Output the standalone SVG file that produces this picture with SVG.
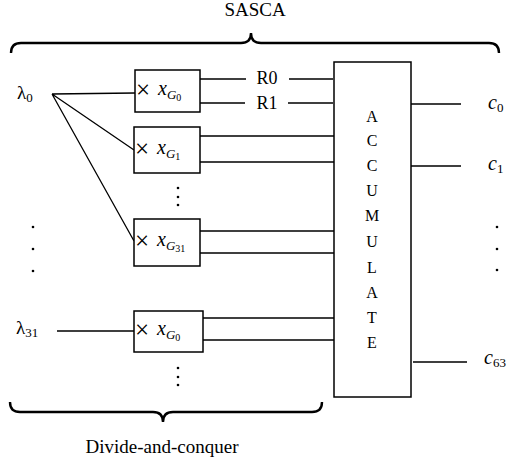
<svg xmlns="http://www.w3.org/2000/svg" width="511" height="462" viewBox="0 0 511 462" font-family="'Liberation Serif', 'Times New Roman', 'DejaVu Serif', serif">
<style>
.ln{stroke:#000;stroke-width:1.3;fill:none}
.bx{stroke:#000;stroke-width:1.5;fill:#fff}
.br{stroke:#000;stroke-width:2.4;fill:none}
text{font-family:'Liberation Serif','Times New Roman','DejaVu Serif',serif;fill:#000}
.t{font-size:19px}
.r{font-size:18px}
.m{font-size:20px;font-style:italic}
.l{font-size:19px;font-style:normal}
.s{font-size:13px;font-style:italic}
.ss{font-size:10px;font-style:normal}
.n{font-size:13px;font-style:normal}
.acc{font-size:16px;text-anchor:middle}
.x{font-size:25px}
</style>
<g id="braces">
<path class="br" d="M11 53 Q11 43 21 43 L241 43 Q251 43 251 33 Q251 43 261 43 L489 43 Q499 43 499 53"/>
<path class="br" d="M10 402 Q10 412 20 412 L153 412 Q163 412 163 422 Q163 412 173 412 L312 412 Q322 412 322 402"/>
<text class="t" x="255" y="16" text-anchor="middle">SASCA</text>
<text class="t" x="162" y="453" text-anchor="middle">Divide-and-conquer</text>
</g>
<g id="connectors">
<path class="ln" d="M52 94 L135 93 M52 94 L134 150 M52 94 L134 241 M57 331 L134 331"/>
<path class="ln" d="M200 79 L246 79 M289 79 L333 79 M200 103 L245 103 M288 103 L333 103"/>
<path class="ln" d="M200 136 L334 136 M200 162 L334 162 M200 231 L334 231 M200 253 L334 253 M203 318 L334 318 M203 340 L334 340"/>
<path class="ln" d="M411 104 L461 104 M411 166 L461 166 M413 362 L467 362"/>
<text class="r" x="267" y="84" text-anchor="middle">R0</text>
<text class="r" x="267" y="109" text-anchor="middle">R1</text>
</g>
<g id="lambda0"><text class="l" x="17" y="99">λ<tspan class="n" dy="3">0</tspan></text></g>
<g id="lambda31"><text class="l" x="16" y="334">λ<tspan class="n" dy="3">31</tspan></text></g>
<g id="box1"><rect class="bx" x="135" y="70" width="65" height="42"/>
<text x="136" y="98" class="x">×<tspan class="m" x="158" dy="-3">x</tspan><tspan class="s" dy="4">G</tspan><tspan class="ss" dy="2">0</tspan></text></g>
<g id="box2"><rect class="bx" x="134" y="127" width="66" height="46"/>
<text x="135" y="157" class="x">×<tspan class="m" x="157" dy="-3">x</tspan><tspan class="s" dy="4">G</tspan><tspan class="ss" dy="2">1</tspan></text></g>
<g id="box3"><rect class="bx" x="134" y="219" width="66" height="47"/>
<text x="135" y="249" class="x">×<tspan class="m" x="157" dy="-3">x</tspan><tspan class="s" dy="4">G</tspan><tspan class="ss" dy="2">31</tspan></text></g>
<g id="box4"><rect class="bx" x="134" y="311" width="69" height="41"/>
<text x="135" y="338" class="x">×<tspan class="m" x="157" dy="-3">x</tspan><tspan class="s" dy="4">G</tspan><tspan class="ss" dy="2">0</tspan></text></g>
<g id="accumulate"><rect class="bx" x="334" y="62" width="77" height="335"/>
<text class="acc" x="372" y="122">A</text>
<text class="acc" x="372" y="146">C</text>
<text class="acc" x="372" y="171">C</text>
<text class="acc" x="372" y="196">U</text>
<text class="acc" x="372" y="221">M</text>
<text class="acc" x="372" y="247">U</text>
<text class="acc" x="372" y="273">L</text>
<text class="acc" x="372" y="298">A</text>
<text class="acc" x="372" y="323">T</text>
<text class="acc" x="372" y="348">E</text>
</g>
<g id="outputs">
<text class="m" x="488" y="109">c<tspan class="n" font-style="normal" dy="3">0</tspan></text>
<text class="m" x="488" y="170">c<tspan class="n" font-style="normal" dy="3">1</tspan></text>
<text class="m" x="484" y="364">c<tspan class="n" font-style="normal" dy="3">63</tspan></text>
</g>
<g id="dots" fill="#000">
<circle cx="178" cy="188" r="1.3"/><circle cx="178" cy="197" r="1.3"/><circle cx="178" cy="205" r="1.3"/>
<circle cx="178" cy="368" r="1.3"/><circle cx="178" cy="377" r="1.3"/><circle cx="178" cy="385" r="1.3"/>
<circle cx="33" cy="227" r="1.3"/><circle cx="33" cy="249" r="1.3"/><circle cx="33" cy="271" r="1.3"/>
<circle cx="497" cy="227" r="1.3"/><circle cx="497" cy="249" r="1.3"/><circle cx="497" cy="270" r="1.3"/>
</g>
</svg>
